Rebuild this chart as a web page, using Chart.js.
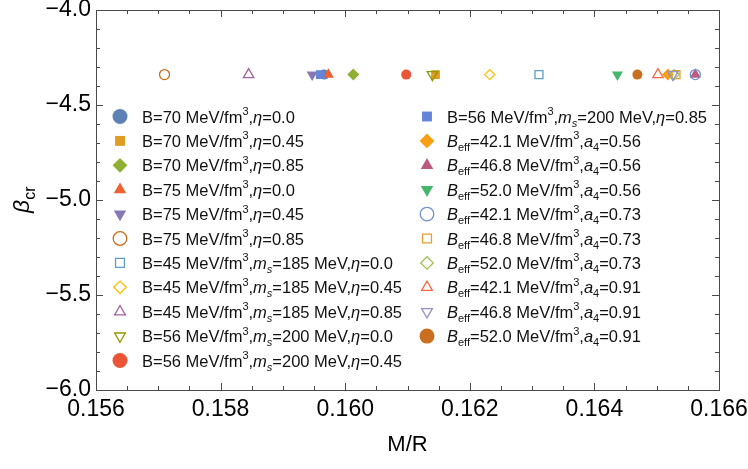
<!DOCTYPE html>
<html>
<head>
<meta charset="utf-8">
<script src="https://cdn.jsdelivr.net/npm/chart.js@4.4.1/dist/chart.umd.min.js"></script>
<style>
  html, body { margin: 0; padding: 0; background: #fff; }
  #wrap { width: 748px; height: 469px; }
</style>
</head>
<body>
<div id="wrap"><canvas id="chart" width="748" height="469"></canvas></div>
<script>
// legend text uses a tiny markup: ^{..} superscript, _{..} subscript, _(..) italic subscript, *..* italic
const seriesLabels = [
  'B=70 MeV/fm^{3},*η*=0.0',
  'B=70 MeV/fm^{3},*η*=0.45',
  'B=70 MeV/fm^{3},*η*=0.85',
  'B=75 MeV/fm^{3},*η*=0.0',
  'B=75 MeV/fm^{3},*η*=0.45',
  'B=75 MeV/fm^{3},*η*=0.85',
  'B=45 MeV/fm^{3},*m*_(s)=185 MeV,*η*=0.0',
  'B=45 MeV/fm^{3},*m*_(s)=185 MeV,*η*=0.45',
  'B=45 MeV/fm^{3},*m*_(s)=185 MeV,*η*=0.85',
  'B=56 MeV/fm^{3},*m*_(s)=200 MeV,*η*=0.0',
  'B=56 MeV/fm^{3},*m*_(s)=200 MeV,*η*=0.45',
  'B=56 MeV/fm^{3},*m*_(s)=200 MeV,*η*=0.85',
  '*B*_{eff}=42.1 MeV/fm^{3},*a*_{4}=0.56',
  '*B*_{eff}=46.8 MeV/fm^{3},*a*_{4}=0.56',
  '*B*_{eff}=52.0 MeV/fm^{3},*a*_{4}=0.56',
  '*B*_{eff}=42.1 MeV/fm^{3},*a*_{4}=0.73',
  '*B*_{eff}=46.8 MeV/fm^{3},*a*_{4}=0.73',
  '*B*_{eff}=52.0 MeV/fm^{3},*a*_{4}=0.73',
  '*B*_{eff}=42.1 MeV/fm^{3},*a*_{4}=0.91',
  '*B*_{eff}=46.8 MeV/fm^{3},*a*_{4}=0.91',
  '*B*_{eff}=52.0 MeV/fm^{3},*a*_{4}=0.91'
];
const compactness = [
  0.15966, 0.16145, 0.16013, 0.15973, 0.15947, 0.15710, 0.16311,
  0.16232, 0.15845, 0.16140, 0.16098, 0.15960, 0.16518, 0.16562,
  0.16437, 0.16562, 0.16531, 0.16528, 0.16502, 0.16526, 0.16469
];
const betaCr = [
  -4.34, -4.34, -4.34, -4.34, -4.34, -4.34, -4.34,
  -4.34, -4.34, -4.34, -4.34, -4.34, -4.34, -4.34,
  -4.34, -4.34, -4.34, -4.34, -4.34, -4.34, -4.34
];
const seriesColors = [
  '#5E81B5', '#E19C24', '#8FB032', '#EB6235', '#8778B3', '#C56E1A', '#5D9EC7',
  '#FFBF00', '#A5609D', '#929600', '#E95536', '#6685D9', '#F89F13', '#BC5B80',
  '#47B66D', '#7092CC', '#E6A030', '#9DC154', '#F26B45', '#9B8FCB', '#C97020'
];
const seriesShapes = [
  'circle', 'square', 'diamond', 'up', 'down', 'circle', 'square',
  'diamond', 'up', 'down', 'circle', 'square', 'diamond', 'up',
  'down', 'circle', 'square', 'diamond', 'up', 'down', 'circle'
];
const seriesFilled = [
  true, true, true, true, true, false, false,
  false, false, false, true, true, true, true,
  true, false, false, false, false, false, true
];
const xTicks = [0.156, 0.158, 0.160, 0.162, 0.164, 0.166];
const yTicks = [-6.0, -5.5, -5.0, -4.5, -4.0];

const FONT = '"Liberation Sans", Arial, sans-serif';
// radii: [plot filled, plot open, legend filled, legend open]
const shapeStyle = {
  circle: { pointStyle: 'circle', rotation: 0, r: [5, 5, 7.5, 6.8] },
  square: { pointStyle: 'rect', rotation: 0, r: [6.2, 5.6, 7, 6.3] },
  diamond: { pointStyle: 'rectRot', rotation: 0, r: [6, 5, 7.4, 6.2] },
  up: { pointStyle: 'triangle', rotation: 0, r: [6.4, 6, 7.2, 6.2] },
  down: { pointStyle: 'triangle', rotation: 180, r: [6.4, 6, 7.2, 6.2] }
};

function parseRich(str) {
  const out = [];
  const re = /\^\{([^}]*)\}|_\{([^}]*)\}|_\(([^)]*)\)|\*([^*]*)\*|([^^_*]+)/g;
  let m;
  while ((m = re.exec(str))) {
    if (m[1] !== undefined) out.push({ t: m[1], k: 'sup' });
    else if (m[2] !== undefined) out.push({ t: m[2], k: 'sub' });
    else if (m[3] !== undefined) out.push({ t: m[3], k: 'subi' });
    else if (m[4] !== undefined) out.push({ t: m[4], k: 'i' });
    else out.push({ t: m[5], k: 'n' });
  }
  return out;
}

function drawRich(ctx, str, x, y, size) {
  const small = Math.round(size * 0.68);
  parseRich(str).forEach(seg => {
    let font = `${size}px ${FONT}`;
    let dy = 0;
    if (seg.k === 'i') font = `italic ${size}px ${FONT}`;
    if (seg.k === 'sup') { font = `${small}px ${FONT}`; dy = -size * 0.45; }
    if (seg.k === 'sub') { font = `${small}px ${FONT}`; dy = size * 0.25; }
    if (seg.k === 'subi') { font = `italic ${small}px ${FONT}`; dy = size * 0.25; }
    ctx.font = font;
    ctx.fillText(seg.t, x, y + dy);
    x += ctx.measureText(seg.t).width;
  });
}

function pointOptions(i, legend) {
  const s = shapeStyle[seriesShapes[i]];
  const idx = (legend ? 2 : 0) + (seriesFilled[i] ? 0 : 1);
  return {
    pointStyle: s.pointStyle,
    rotation: s.rotation,
    radius: s.r[idx],
    borderWidth: seriesFilled[i] ? 0 : 1.3
  };
}

const datasets = seriesLabels.map((label, i) => {
  const p = pointOptions(i, false);
  return {
    label,
    data: [{ x: compactness[i], y: betaCr[i] }],
    order: -i,
    pointStyle: p.pointStyle,
    rotation: p.rotation,
    pointRadius: p.radius,
    pointBorderWidth: p.borderWidth,
    pointBorderColor: seriesColors[i],
    pointBackgroundColor: seriesFilled[i] ? seriesColors[i] : 'rgba(0,0,0,0)',
    showLine: false
  };
});

const framePlugin = {
  id: 'frame',
  afterDraw(chart) {
    const { ctx, chartArea: a, scales } = chart;
    ctx.save();
    ctx.strokeStyle = '#4a4a4a';
    ctx.lineWidth = 1;
    ctx.strokeRect(Math.round(a.left) + 0.5, Math.round(a.top) + 0.5,
      Math.round(a.right - a.left), Math.round(a.bottom - a.top));
    ctx.beginPath();
    for (let k = 0; k <= 20; k++) {
      const px = Math.round(scales.x.getPixelForValue(0.156 + k * 0.0005)) + 0.5;
      const len = k % 4 === 0 ? 7 : 4;
      ctx.moveTo(px, a.bottom); ctx.lineTo(px, a.bottom - len);
      ctx.moveTo(px, a.top); ctx.lineTo(px, a.top + len);
    }
    for (let k = 0; k <= 20; k++) {
      const py = Math.round(scales.y.getPixelForValue(-6 + k * 0.1)) + 0.5;
      const len = k % 5 === 0 ? 7 : 4;
      ctx.moveTo(a.left, py); ctx.lineTo(a.left + len, py);
      ctx.moveTo(a.right, py); ctx.lineTo(a.right - len, py);
    }
    ctx.stroke();

    // y axis title
    ctx.fillStyle = '#000';
    ctx.translate(29, 213);
    ctx.rotate(-Math.PI / 2);
    ctx.textBaseline = 'alphabetic';
    ctx.textAlign = 'left';
    drawRich(ctx, '*β*_{cr}', 0, 0, 23);
    ctx.restore();
  }
};

const legendPlugin = {
  id: 'richLegend',
  afterDraw(chart) {
    const ctx = chart.ctx;
    ctx.save();
    seriesLabels.forEach((label, i) => {
      const col = i < 11 ? 0 : 1;
      const row = col ? i - 11 : i;
      const cy = 116.5 + row * 24.4;
      const mx = col ? 427 : 120;
      const tx = col ? 447 : 142;
      const p = pointOptions(i, true);
      ctx.fillStyle = seriesFilled[i] ? seriesColors[i] : 'rgba(0,0,0,0)';
      ctx.strokeStyle = seriesColors[i];
      ctx.lineWidth = p.borderWidth;
      Chart.helpers.drawPoint(ctx, {
        pointStyle: p.pointStyle, rotation: p.rotation, radius: p.radius, borderWidth: p.borderWidth
      }, mx, cy);
      ctx.fillStyle = '#111';
      ctx.textBaseline = 'alphabetic';
      ctx.textAlign = 'left';
      drawRich(ctx, label, tx, cy + 6, 16.5);
    });
    ctx.restore();
  }
};

function clearPadding(scale) {
  scale.paddingLeft = 0;
  scale.paddingRight = 0;
  scale.paddingTop = 0;
  scale.paddingBottom = 0;
}

new Chart(document.getElementById('chart'), {
  type: 'scatter',
  data: { datasets },
  options: {
    responsive: false,
    animation: false,
    devicePixelRatio: 1,
    layout: { padding: { top: 10, right: 29, left: 0, bottom: 0 } },
    plugins: { legend: { display: false }, tooltip: { enabled: false } },
    scales: {
      x: {
        type: 'linear',
        min: 0.156,
        max: 0.166,
        grid: { display: false, drawTicks: false },
        border: { display: false },
        afterBuildTicks: scale => { scale.ticks = xTicks.map(v => ({ value: v })); },
        afterFit: scale => { scale.height = 79; clearPadding(scale); },
        ticks: {
          autoSkip: false,
          maxRotation: 0,
          padding: 6,
          color: '#000',
          font: { family: FONT, size: 23 },
          callback: v => v.toFixed(3)
        },
        title: {
          display: true,
          text: 'M/R',
          color: '#000',
          font: { family: FONT, size: 22 },
          padding: { top: 0, bottom: 11 }
        }
      },
      y: {
        type: 'linear',
        min: -6,
        max: -4,
        grid: { display: false, drawTicks: false },
        border: { display: false },
        afterBuildTicks: scale => { scale.ticks = yTicks.map(v => ({ value: v })); },
        afterFit: scale => { scale.width = 96; clearPadding(scale); },
        ticks: {
          autoSkip: false,
          padding: 5,
          color: '#000',
          font: { family: FONT, size: 23 },
          callback: v => (v < 0 ? '\u2212' : '') + Math.abs(v).toFixed(1)
        }
      }
    }
  },
  plugins: [framePlugin, legendPlugin]
});
</script>
</body>
</html>
